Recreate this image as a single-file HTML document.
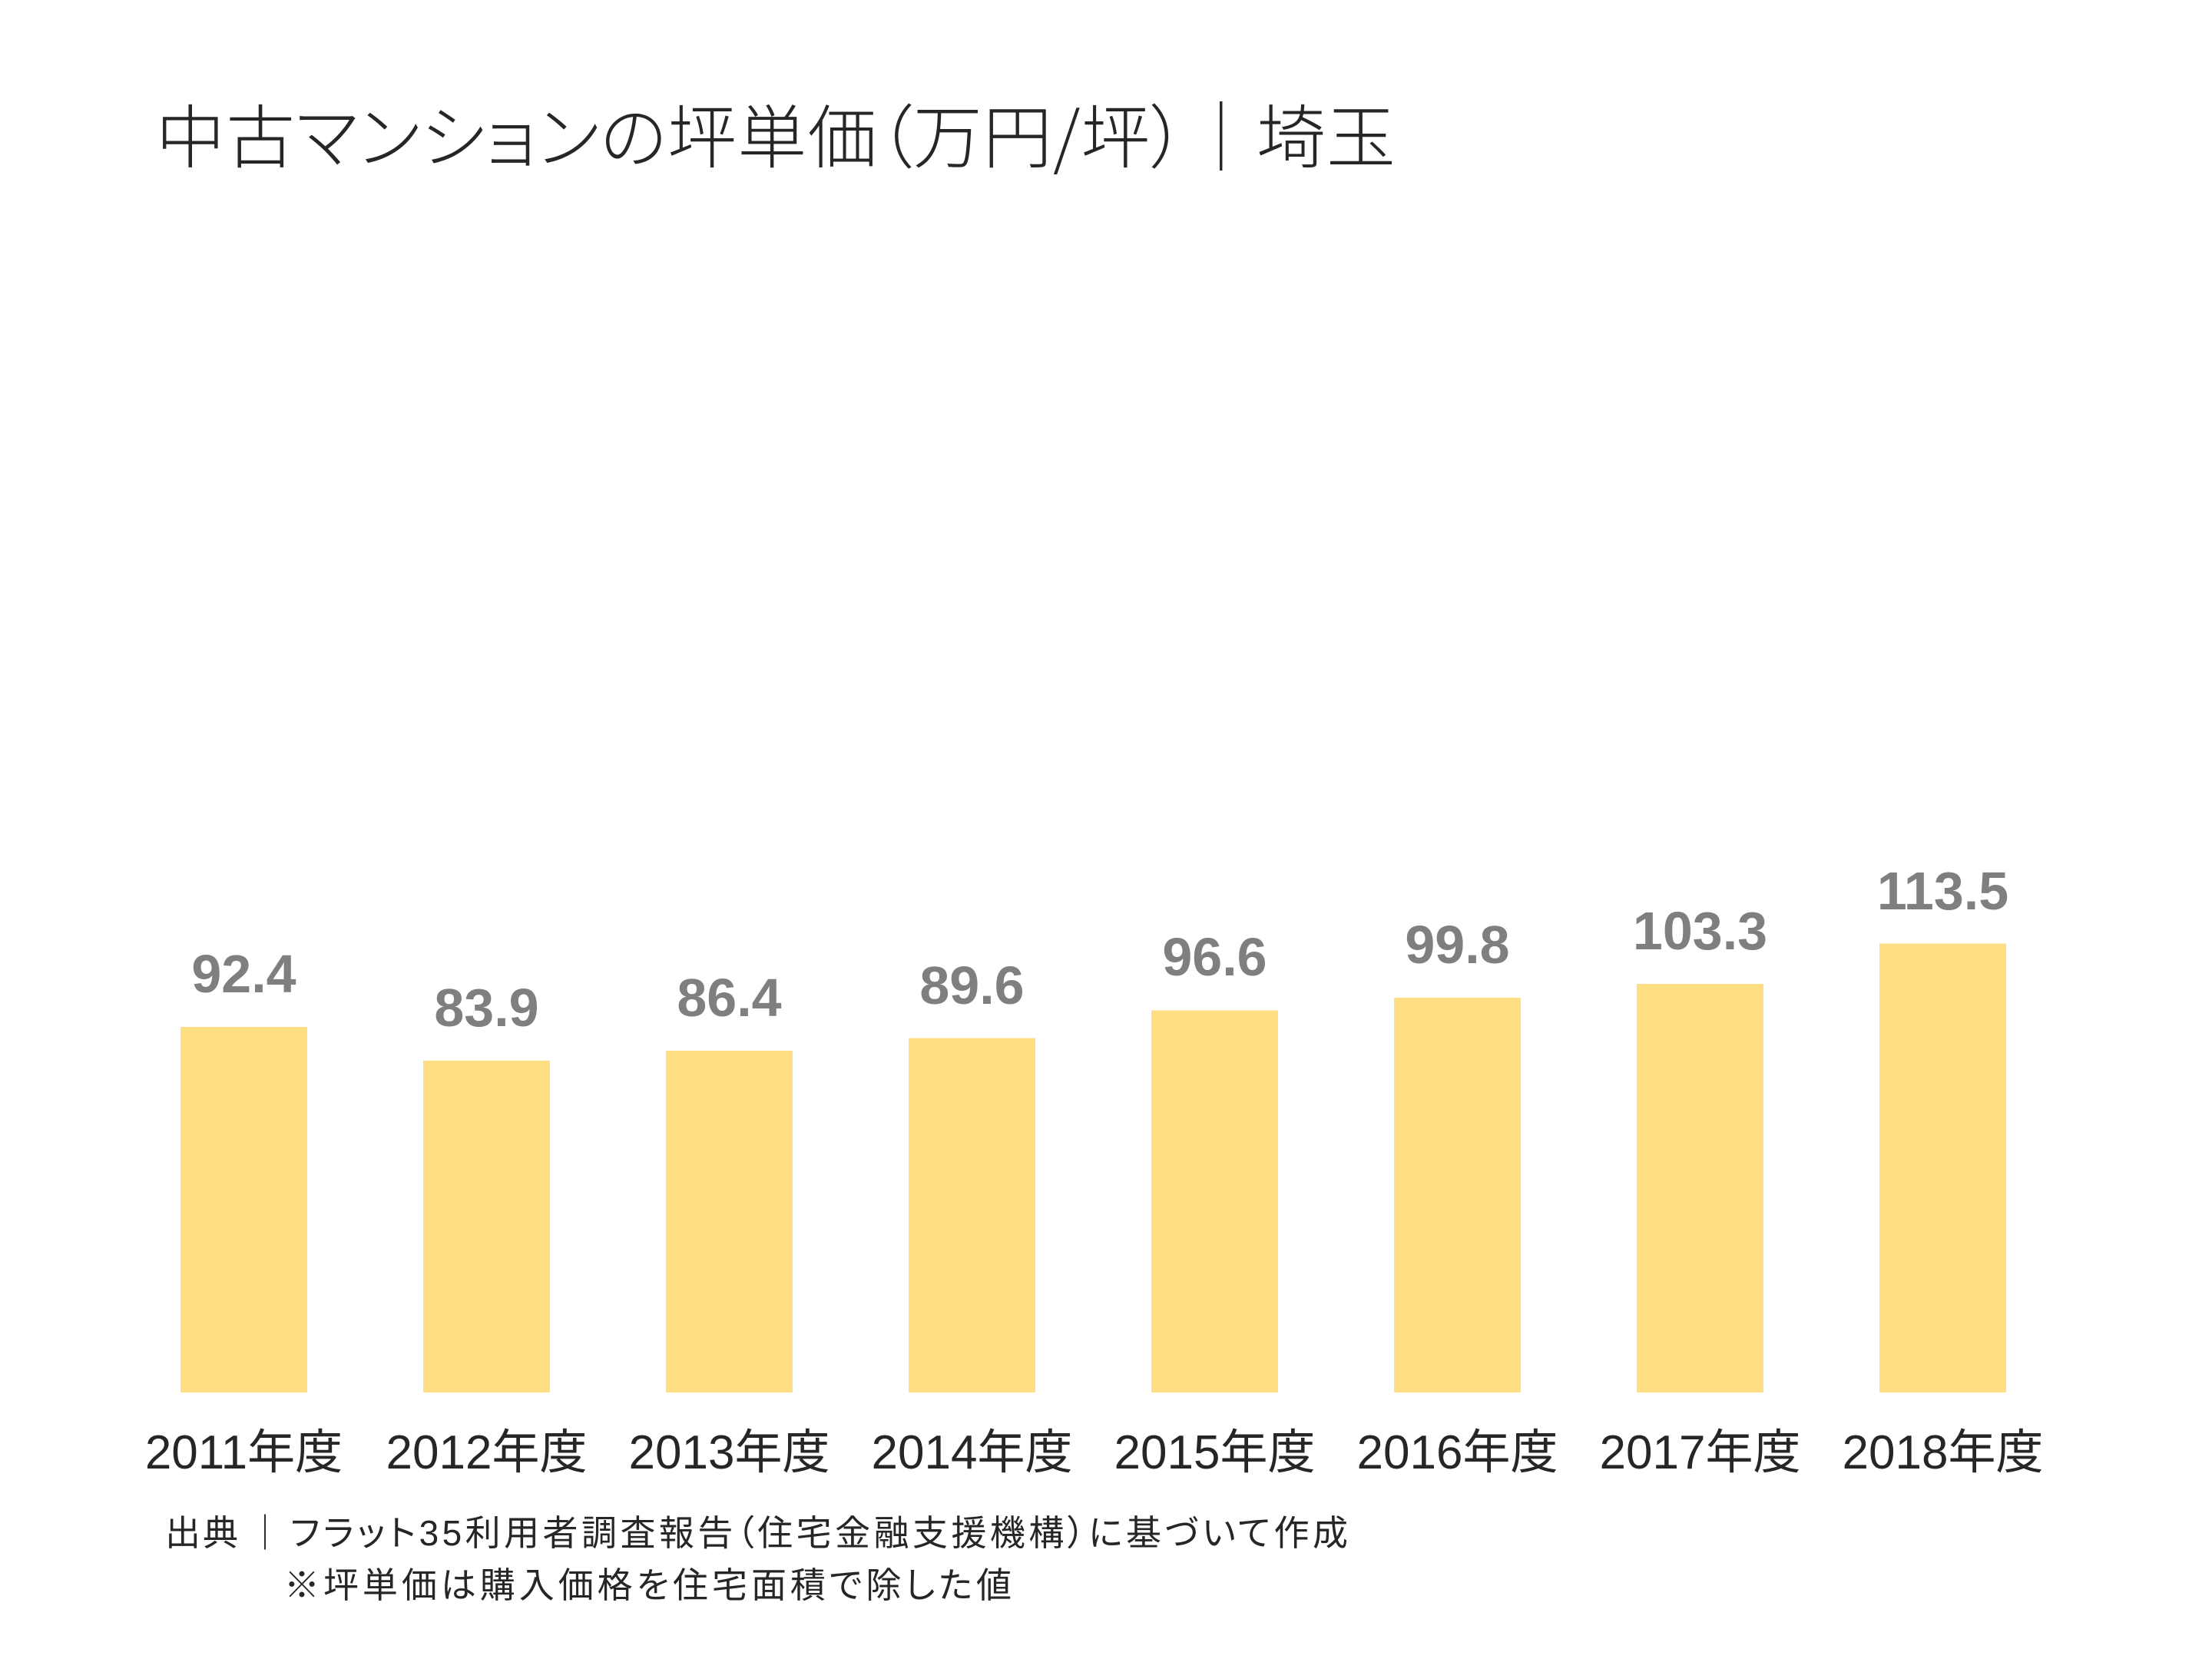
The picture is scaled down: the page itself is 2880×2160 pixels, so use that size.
<!DOCTYPE html>
<html lang="ja">
<head>
<meta charset="utf-8">
<style>
  html,body{margin:0;padding:0;background:#ffffff;}
  body{width:2880px;height:2160px;overflow:hidden;}
  svg{display:block;}
  .ttl{font-family:"Liberation Sans","Noto Sans CJK JP",sans-serif;font-size:90px;font-weight:300;fill:#262626;font-feature-settings:"palt" 1;}
  .cjk{font-family:"Noto Sans CJK JP",sans-serif;}
  .val{font-family:"Liberation Sans",sans-serif;font-size:70px;font-weight:700;fill:#7f7f7f;}
  .xl{font-family:"Liberation Sans","Noto Sans CJK JP",sans-serif;font-size:62px;fill:#262626;}
  .fn{font-family:"Liberation Sans","Noto Sans CJK JP",sans-serif;font-size:46px;fill:#262626;}
  .palt{font-feature-settings:"palt" 1;}
</style>
</head>
<body>
<svg width="2880" height="2160" viewBox="0 0 2880 2160" xmlns="http://www.w3.org/2000/svg">
  <rect x="0" y="0" width="2880" height="2160" fill="#ffffff"/>

  <!-- Title -->
  <text class="ttl" x="203" y="211" textLength="1614" lengthAdjust="spacing">中古マンションの坪単価（万円<tspan class="cjk">/</tspan>坪）｜埼玉</text>

  <!-- Bars -->
  <g fill="#FFDE83">
    <rect x="235" y="1337.1" width="165" height="475.9"/>
    <rect x="551" y="1380.9" width="165" height="432.1"/>
    <rect x="867" y="1368.0" width="165" height="445.0"/>
    <rect x="1183" y="1351.6" width="165" height="461.4"/>
    <rect x="1499" y="1315.5" width="165" height="497.5"/>
    <rect x="1815" y="1299.0" width="165" height="514.0"/>
    <rect x="2131" y="1281.0" width="165" height="532.0"/>
    <rect x="2447" y="1228.5" width="165" height="584.5"/>
  </g>

  <!-- Value labels -->
  <g class="val" text-anchor="middle">
    <text x="317.5" y="1292">92.4</text>
    <text x="633.5" y="1336">83.9</text>
    <text x="949.5" y="1323">86.4</text>
    <text x="1265.5" y="1307">89.6</text>
    <text x="1581.5" y="1270">96.6</text>
    <text x="1897.5" y="1254">99.8</text>
    <text x="2213.5" y="1236">103.3</text>
    <text x="2529.5" y="1184">113.5</text>
  </g>

  <!-- X labels -->
  <g class="xl" text-anchor="middle">
    <text x="317.5" y="1912">2011年度</text>
    <text x="633.5" y="1912">2012年度</text>
    <text x="949.5" y="1912">2013年度</text>
    <text x="1265.5" y="1912">2014年度</text>
    <text x="1581.5" y="1912">2015年度</text>
    <text x="1897.5" y="1912">2016年度</text>
    <text x="2213.5" y="1912">2017年度</text>
    <text x="2529.5" y="1912">2018年度</text>
  </g>

  <!-- Footnote -->
  <text class="fn" x="215" y="2012" letter-spacing="3">出典</text>
  <text class="fn" x="345" y="2012" text-anchor="middle">｜</text>
  <text class="fn palt" x="378" y="2012" textLength="1377" lengthAdjust="spacing">フラット35利用者調査報告（住宅金融支援機構）に基づいて作成</text>
  <text class="fn palt" x="370" y="2080" textLength="947" lengthAdjust="spacing">※坪単価は購入価格を住宅面積で除した値</text>
</svg>
</body>
</html>
